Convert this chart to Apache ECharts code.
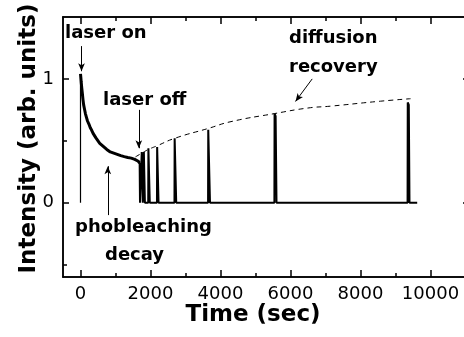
<!DOCTYPE html>
<html>
<head>
<meta charset="utf-8">
<script src="https://cdn.jsdelivr.net/npm/echarts@6/dist/echarts.min.js"></script>
<style>html,body{margin:0;padding:0;background:#fff;}#c{width:464px;height:337px;}</style>
</head>
<body>
<div id="c"></div>
<script>
// ---- data ----
var xMajorTicks = [0, 2000, 4000, 6000, 8000, 10000];
var xMinorTicks = [1000, 3000, 5000, 7000, 9000];
var yMajorTicks = [0, 1];
var yMinorTicks = [-0.5, 0.5];

// laser switched on: vertical rise at t = 0
var riseT = [0, 0];
var riseI = [0, 1.04];

// photobleaching decay (laser on)
var decayT = [0, 10, 20, 35, 50, 70, 90, 115, 140, 170, 200, 240, 280, 320, 360, 400, 450, 500, 550, 600, 650, 700, 750, 800, 850, 900, 950, 1000, 1050, 1100, 1150, 1200, 1250, 1300, 1350, 1400, 1450, 1500, 1550, 1600, 1650, 1690];
var decayI = [1.04, 1.01, 0.975, 0.93, 0.89, 0.835, 0.79, 0.755, 0.72, 0.69, 0.66, 0.635, 0.605, 0.585, 0.56, 0.545, 0.52, 0.505, 0.48, 0.47, 0.455, 0.45, 0.43, 0.43, 0.41, 0.415, 0.40, 0.405, 0.39, 0.395, 0.38, 0.385, 0.372, 0.378, 0.365, 0.372, 0.36, 0.362, 0.35, 0.348, 0.335, 0.32];

// laser off: baseline with short probe pulses
var recT = [1690, 1700, 1745, 1750, 1770, 1780, 1805, 1810, 1830, 1840, 1935, 1940, 1965, 1980, 2185, 2190, 2215, 2230, 2685, 2690, 2715, 2735, 3645, 3650, 3680, 3700, 5540, 5545, 5575, 5600, 9345, 9350, 9380, 9400, 9620];
var recI = [0.32, 0, 0, 0.41, 0.40, 0, 0, 0.41, 0.40, 0, 0, 0.44, 0.43, 0, 0, 0.45, 0.44, 0, 0, 0.52, 0.51, 0, 0, 0.59, 0.58, 0, 0, 0.72, 0.70, 0, 0, 0.81, 0.79, 0, 0];

// dashed diffusion-recovery envelope
var envT = [1570, 1750, 1940, 2190, 2690, 3650, 4300, 5545, 6500, 7150, 8570, 9430];
var envI = [0.37, 0.40, 0.43, 0.46, 0.52, 0.60, 0.655, 0.72, 0.765, 0.78, 0.82, 0.84];

function pairs(a, b) { return a.map(function (v, i) { return [v, b[i]]; }); }

var FONT = 'DejaVu Sans';
var axisLineStyle = { color: '#000', width: 1.5 };
function plain(v) { return String(v); }
function xAx(pos, ticks, len, labels) {
  return {
    type: 'value', min: -500, max: 11100, position: pos,
    axisLine: { show: true, onZero: false, lineStyle: axisLineStyle },
    axisTick: { show: true, inside: true, length: len, customValues: ticks, lineStyle: { color: '#000', width: 1.5 } },
    axisLabel: labels ? { show: true, customValues: ticks, formatter: plain, margin: 8, color: '#000', fontFamily: FONT, fontSize: 18 } : { show: false },
    splitLine: { show: false }
  };
}
function yAx(pos, ticks, len, labels) {
  return {
    type: 'value', min: -0.6, max: 1.5, position: pos,
    axisLine: { show: true, onZero: false, lineStyle: axisLineStyle },
    axisTick: { show: true, inside: true, length: len, customValues: ticks, lineStyle: { color: '#000', width: 1.5 } },
    axisLabel: labels ? { show: true, customValues: ticks, formatter: plain, margin: 9, color: '#000', fontFamily: FONT, fontSize: 18 } : { show: false },
    splitLine: { show: false }
  };
}

var chart = echarts.init(document.getElementById('c'), null, { renderer: 'canvas' });
var arrowLine = { color: '#000', width: 1, type: 'solid' };
var option = {
  animation: false,
  backgroundColor: '#fff',
  grid: { left: 63, top: 17, width: 406, height: 260, containLabel: false, outerBoundsMode: 'none' },
  xAxis: [
    xAx('bottom', xMajorTicks, 7, true),
    xAx('bottom', xMinorTicks, 4, false),
    xAx('top', xMajorTicks, 7, false),
    xAx('top', xMinorTicks, 4, false)
  ],
  yAxis: [
    yAx('left', yMajorTicks, 6, true),
    yAx('left', yMinorTicks, 4, false),
    yAx('right', yMajorTicks, 6, false),
    yAx('right', yMinorTicks, 4, false)
  ],
  series: [
    { type: 'line', data: pairs(riseT, riseI), showSymbol: false, silent: true,
      lineStyle: { color: '#000', width: 1.2 } },
    { type: 'line', data: pairs(decayT, decayI), showSymbol: false, silent: true,
      lineStyle: { color: '#000', width: 3 } },
    { type: 'line', data: pairs(recT, recI), showSymbol: false, silent: true,
      lineStyle: { color: '#000', width: 2 } },
    { type: 'line', data: pairs(envT, envI), showSymbol: false, silent: true, smooth: true,
      lineStyle: { color: '#000', width: 1, type: [5, 4] },
      markLine: {
        silent: true, symbol: ['none', 'arrow'], symbolSize: [5, 8],
        label: { show: false }, lineStyle: arrowLine,
        data: [
          [{ coord: [29, 1.265] }, { coord: [29, 1.062] }],
          [{ coord: [1666, 0.75] }, { coord: [1666, 0.44] }],
          [{ coord: [780, -0.10] }, { coord: [780, 0.295] }],
          [{ coord: [6620, 1.0] }, { coord: [6143, 0.818] }]
        ]
      }
    }
  ],
  graphic: [
    { type: 'text', x: 65, y: 33, style: { text: 'laser on', font: 'bold 18px "DejaVu Sans"', fill: '#000', textAlign: 'left', textVerticalAlign: 'middle' } },
    { type: 'text', x: 103, y: 100.5, style: { text: 'laser off', font: 'bold 18px "DejaVu Sans"', fill: '#000', textAlign: 'left', textVerticalAlign: 'middle' } },
    { type: 'text', x: 289, y: 38.8, style: { text: 'diffusion', font: 'bold 18px "DejaVu Sans"', fill: '#000', textAlign: 'left', textVerticalAlign: 'middle' } },
    { type: 'text', x: 289, y: 67, style: { text: 'recovery', font: 'bold 18px "DejaVu Sans"', fill: '#000', textAlign: 'left', textVerticalAlign: 'middle' } },
    { type: 'text', x: 75, y: 227, style: { text: 'phobleaching', font: 'bold 18px "DejaVu Sans"', fill: '#000', textAlign: 'left', textVerticalAlign: 'middle' } },
    { type: 'text', x: 105, y: 255.5, style: { text: 'decay', font: 'bold 18px "DejaVu Sans"', fill: '#000', textAlign: 'left', textVerticalAlign: 'middle' } },
    { type: 'text', x: 253, y: 315, style: { text: 'Time (sec)', font: 'bold 23px "DejaVu Sans"', fill: '#000', textAlign: 'center', textVerticalAlign: 'middle' } },
    { type: 'text', x: 29, y: 138.5, rotation: Math.PI / 2, style: { text: 'Intensity (arb. units)', font: 'bold 23px "DejaVu Sans"', fill: '#000', textAlign: 'center', textVerticalAlign: 'middle' } }
  ]
};
chart.setOption(option);
</script>
</body>
</html>
